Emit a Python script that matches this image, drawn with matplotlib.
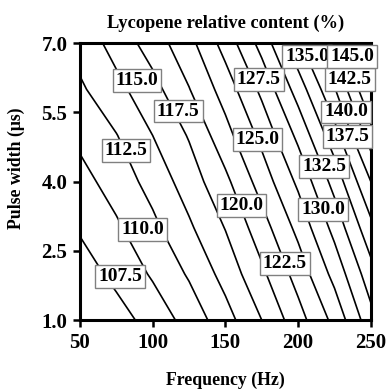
import numpy as np
import matplotlib
matplotlib.use("Agg")
import matplotlib.pyplot as plt

# Grid
frequency = [50, 75, 100, 125, 150, 175, 200, 225, 250]          # Hz
pulse_width = [1.0, 2.0, 3.0, 4.0, 5.0, 6.0, 7.0]                  # us
content = [
    [104.6, 106.4, 108.5, 110.9, 114.0, 117.5, 121.5, 125.7, 131.6],
    [106.2, 108.2, 110.3, 112.8, 115.9, 119.5, 123.5, 128.3, 134.0],
    [107.8, 109.6, 111.9, 114.6, 117.6, 121.4, 125.7, 130.8, 136.8],
    [109.1, 111.1, 113.4, 116.2, 119.4, 123.6, 128.0, 133.4, 140.0],
    [110.6, 112.4, 115.0, 117.7, 121.6, 125.7, 130.6, 136.5, 143.8],
    [112.1, 114.3, 116.6, 119.9, 123.6, 128.1, 133.6, 139.8, 147.7],
    [113.5, 115.9, 118.7, 121.7, 126.0, 130.9, 137.0, 143.8, 151.4],
]
levels = [107.5, 110.0, 112.5, 115.0, 117.5, 120.0, 122.5, 125.0, 127.5,
          130.0, 132.5, 135.0, 137.5, 140.0, 142.5, 145.0, 147.5, 150.0]
label_levels = [107.5, 110.0, 112.5, 115.0, 117.5, 120.0, 122.5, 125.0,
                127.5, 130.0, 132.5, 135.0, 137.5, 140.0, 142.5, 145.0]
x_ticks = [50, 100, 150, 200, 250]
y_ticks = [1.0, 2.5, 4.0, 5.5, 7.0]

# label placement (layout)
label_pos = [(77.6, 1.95), (93.1, 2.97), (81.7, 4.68), (89.3, 6.20),
             (117.6, 5.53), (161.0, 3.49), (190.7, 2.22), (172.0, 4.92),
             (172.8, 6.22), (217.0, 3.39), (218.0, 4.32), (206.0, 6.72),
             (234.0, 4.97), (233.0, 5.51), (235.5, 6.22), (237.0, 6.72)]

plt.rcParams['font.family'] = ['Liberation Serif', 'DejaVu Serif']
plt.rcParams['font.weight'] = 'bold'

fig = plt.figure(figsize=(3.90, 3.89), dpi=100)
ax = fig.add_axes([0.205, 0.177, 0.746, 0.712])

F, P = np.meshgrid(frequency, pulse_width)
Z = np.array(content)
ax.contour(F, P, Z, levels=levels, colors='black', linewidths=1.2)

for lv, (xx, yy) in zip(label_levels, label_pos):
    ax.text(xx, yy, f"{lv:.1f}", ha='center', va='center', fontsize=14,
            fontweight='bold', zorder=5,
            bbox=dict(boxstyle='square,pad=0.15', facecolor='white',
                      edgecolor='#808080', linewidth=1.0))

ax.set_xlim(50, 250)
ax.set_ylim(1.0, 7.0)
ax.set_xticks(x_ticks)
ax.set_xticklabels([str(v) for v in x_ticks])
ax.set_yticks(y_ticks)
ax.set_yticklabels([f"{v:.1f}" for v in y_ticks])
ax.tick_params(direction='out', length=5, width=1.8, labelsize=15, pad=4)
for s in ax.spines.values():
    s.set_linewidth(2.2)

ax.set_title("Lycopene relative content (%)", fontsize=13.2, fontweight='bold', pad=11)
ax.set_xlabel("Frequency (Hz)", fontsize=12.8, fontweight='bold')
ax.xaxis.set_label_coords(0.5, -0.185)
ax.set_ylabel("Pulse width (μs)", fontsize=12.8, fontweight='bold')
ax.yaxis.set_label_coords(-0.19, 0.55)

fig.savefig("out.png", dpi=100)
